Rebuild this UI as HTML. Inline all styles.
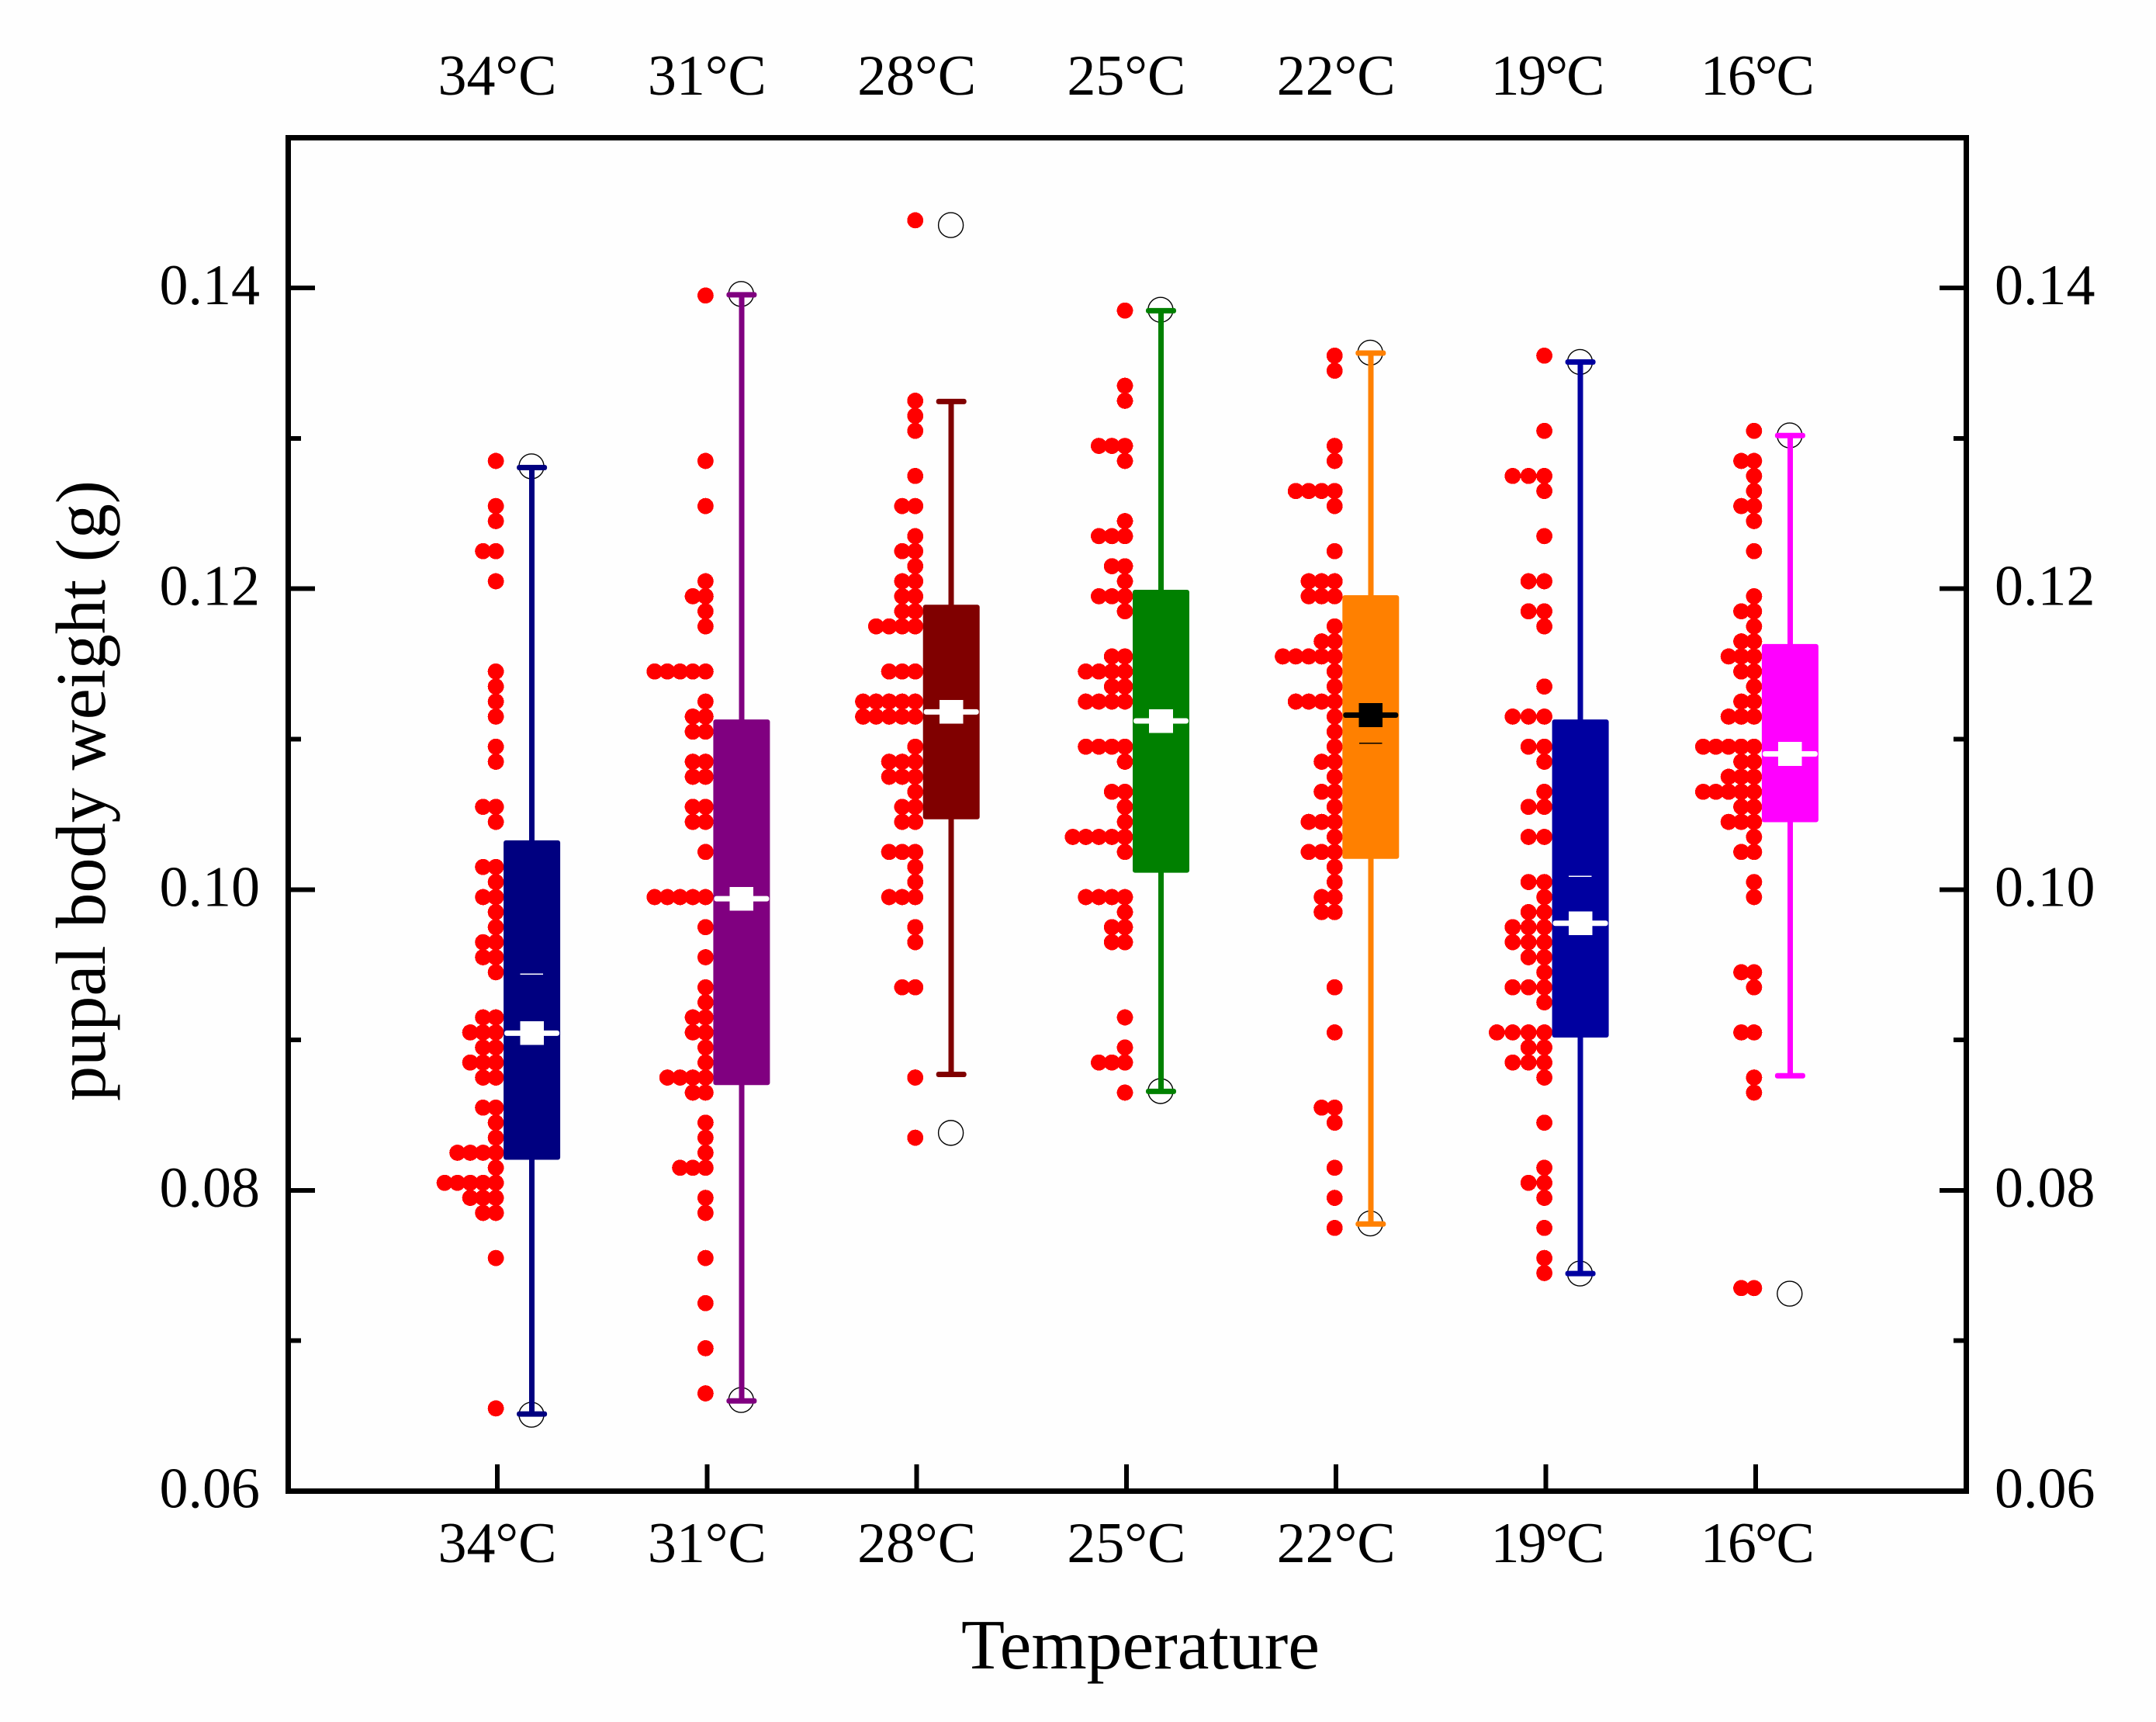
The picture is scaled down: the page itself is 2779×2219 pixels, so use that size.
<!DOCTYPE html>
<html lang="en">
<head>
<meta charset="utf-8">
<title>Pupal body weight by temperature</title>
<style>
html,body{margin:0;padding:0;background:#fefefe;}
svg{display:block;}
text{font-family:"Liberation Serif",serif;fill:#000;}
rect{shape-rendering:crispEdges;}
circle.pt{shape-rendering:crispEdges;}
rect.round{shape-rendering:auto;}
</style>
</head>
<body>
<svg id="chart" xmlns="http://www.w3.org/2000/svg" width="2779" height="2219" viewBox="0 0 2779 2219">
  <rect x="0" y="0" width="2779" height="2219" fill="#fefefe"></rect>
  <text x="1470" y="2150" font-size="91" text-anchor="middle" textLength="462" lengthAdjust="spacingAndGlyphs">Temperature</text>
  <text transform="translate(135 1019) rotate(-90)" x="0" y="0" font-size="91" text-anchor="middle" textLength="800" lengthAdjust="spacingAndGlyphs">pupal body weight (g)</text>
</svg>
<script>
// ---- axis labels ----
const categories = ["34°C","31°C","28°C","25°C","22°C","19°C","16°C"];
const yTickValues = [0.06,0.08,0.10,0.12,0.14];
const yMinorTickValues = [0.07,0.09,0.11,0.13];

// ---- box statistics per temperature ----
const q1Values       = [0.08203,0.08700,0.10467,0.10112,0.10204,0.09016,0.10448];
const q3Values       = [0.10327,0.11131,0.11894,0.11993,0.11957,0.11131,0.11633];
const meanValues     = [0.09045,0.09939,0.11181,0.11121,0.11160,0.09776,0.10902];
const medianValues   = [0.09437,null,null,null,0.10972,0.10089,null];
const whiskerLow     = [0.06513,0.06600,0.08771,0.08658,0.07776,0.07447,0.08762];
const whiskerHigh    = [0.12806,0.13955,0.13245,0.13849,0.13567,0.13508,0.13019];
const extremeLow     = [0.06508,0.06606,0.08382,0.08660,0.07780,0.07447,0.07313];
const extremeHigh    = [0.12814,0.13960,0.14418,0.13855,0.13570,0.13508,0.13020];

// ---- binned raw observations: bin centre and number of points in the bin ----
const bins34 = [0.1285,0.1255,0.1245,0.1225,0.1205,0.1145,0.1135,0.1125,0.1115,0.1095,0.1085,0.1055,0.1045,0.1015,0.1005,0.0995,0.0985,0.0975,0.0965,0.0955,0.0945,0.0915,0.0905,0.0895,0.0885,0.0875,0.0855,0.0845,0.0835,0.0825,0.0815,0.0805,0.0795,0.0785,0.0755,0.0655];
const counts34 = [1,1,1,2,1,1,1,1,1,1,1,2,1,2,1,2,1,1,2,2,1,2,3,2,3,2,2,1,1,4,1,5,3,2,1,1];
const bins31 = [0.1395,0.1285,0.1255,0.1205,0.1195,0.1185,0.1175,0.1145,0.1125,0.1115,0.1105,0.1085,0.1075,0.1055,0.1045,0.1025,0.0995,0.0975,0.0955,0.0935,0.0925,0.0915,0.0905,0.0895,0.0885,0.0875,0.0865,0.0845,0.0835,0.0825,0.0815,0.0795,0.0785,0.0755,0.0725,0.0695,0.0665];
const counts31 = [1,1,1,1,2,1,1,5,1,2,2,2,2,2,2,1,5,1,1,1,1,2,2,1,1,4,2,1,1,1,3,1,1,1,1,1,1];
const bins28 = [0.1445,0.1325,0.1315,0.1305,0.1275,0.1255,0.1235,0.1225,0.1215,0.1205,0.1195,0.1185,0.1175,0.1145,0.1125,0.1115,0.1095,0.1085,0.1075,0.1065,0.1055,0.1045,0.1025,0.1015,0.1005,0.0995,0.0975,0.0965,0.0935,0.0875,0.0835];
const counts28 = [1,1,1,1,1,2,1,2,1,2,2,2,4,3,5,5,1,3,3,1,2,2,3,1,1,3,1,1,2,1,1];
const bins25 = [0.1385,0.1335,0.1325,0.1295,0.1285,0.1245,0.1235,0.1215,0.1205,0.1195,0.1185,0.1155,0.1145,0.1135,0.1125,0.1095,0.1085,0.1065,0.1055,0.1045,0.1035,0.1025,0.0995,0.0985,0.0975,0.0965,0.0915,0.0895,0.0885,0.0865];
const counts25 = [1,1,1,3,1,1,3,2,1,3,1,2,4,2,4,4,1,2,1,1,5,1,4,1,2,2,1,1,3,1];
const bins22 = [0.1355,0.1345,0.1295,0.1285,0.1265,0.1255,0.1225,0.1205,0.1195,0.1175,0.1165,0.1155,0.1145,0.1135,0.1125,0.1115,0.1105,0.1095,0.1085,0.1075,0.1065,0.1055,0.1045,0.1035,0.1025,0.1015,0.1005,0.0995,0.0985,0.0935,0.0905,0.0855,0.0845,0.0815,0.0795,0.0775];
const counts22 = [1,1,1,1,4,1,1,3,3,1,2,5,1,1,4,1,1,1,2,1,2,1,3,1,3,1,1,2,2,1,1,2,1,1,1,1];
const bins19 = [0.1355,0.1305,0.1275,0.1265,0.1235,0.1205,0.1185,0.1175,0.1135,0.1115,0.1095,0.1085,0.1065,0.1055,0.1035,0.1005,0.0995,0.0985,0.0975,0.0965,0.0955,0.0945,0.0935,0.0925,0.0905,0.0895,0.0885,0.0875,0.0845,0.0815,0.0805,0.0795,0.0775,0.0755,0.0745];
const counts19 = [1,1,3,1,1,2,2,1,1,3,2,1,1,2,2,2,1,2,3,3,2,1,3,1,4,2,3,1,1,1,2,1,1,1,1];
const bins16 = [0.1305,0.1285,0.1275,0.1265,0.1255,0.1245,0.1225,0.1195,0.1185,0.1175,0.1165,0.1155,0.1145,0.1135,0.1125,0.1115,0.1095,0.1085,0.1075,0.1065,0.1055,0.1045,0.1035,0.1025,0.1005,0.0995,0.0945,0.0935,0.0905,0.0875,0.0865,0.0735];
const counts16 = [1,2,1,1,2,1,1,1,2,1,2,3,2,1,2,3,5,2,3,5,2,3,1,2,1,1,2,1,2,1,1,2];
const binsByCategory = [bins34,bins31,bins28,bins25,bins22,bins19,bins16];
const countsByCategory = [counts34,counts31,counts28,counts25,counts22,counts19,counts16];

// ---- appearance ----
const boxColors = ["#000080","#800080","#800000","#008000","#ff8000","#0000a0","#ff00ff"];
const markColors = ["#fff","#fff","#fff","#fff","#000","#fff","#fff"];
const dotPitch = [16.5,16.4,16.8,16.8,16.7,20.4,16.4];

// ---- axis functions ----
const frameLeft = 371.5, frameRight = 2534.5, frameTop = 177.5, frameBottom = 1921.5;
function yScale(v){ return frameBottom - (v - 0.06) * 19380; }
function xScale(position){ return 370.7 + 270.3 * position; }

const NS = "http://www.w3.org/2000/svg";
const svg = document.getElementById("chart");
function make(tag, props, parent){
  const el = document.createElementNS(NS, tag);
  for (const k in props) el.setAttribute(k, props[k]);
  (parent || svg).appendChild(el);
  return el;
}

// ---- dots ----
categories.forEach(function(cat, i){
  const group = make("g", {});
  
  
  const bins = binsByCategory[i], counts = countsByCategory[i];
  const cx0 = xScale(i + 1) - 1.9;
  bins.forEach(function(v, b){
    for (let n = 0; n < counts[b]; n++){
      const dot = make("circle", {"class": "pt", cx: cx0 - n * dotPitch[i], cy: yScale(v), r: 10.4, fill: "#ff0000"}, group);
      
      
    }
  });
});

// ---- box plots ----
categories.forEach(function(cat, i){
  const color = boxColors[i], mark = markColors[i];
  const cx = xScale(i + 1) + 44.6;
  const group = make("g", {});
  
  

  [extremeLow[i], extremeHigh[i]].forEach(function(v){
    const ring = make("circle", {cx: cx - 0.6, cy: yScale(v), r: 16, fill: "none", stroke: "#000", "stroke-width": 1.4}, group);
    
    
  });

  const stem = make("rect", {x: cx - 3.5, y: yScale(whiskerHigh[i]), width: 7, height: yScale(whiskerLow[i]) - yScale(whiskerHigh[i]), fill: color}, group);
  
  

  [whiskerLow[i], whiskerHigh[i]].forEach(function(v){
    const cap = make("rect", {"class": "round", x: cx - 19.5, y: yScale(v) - 3.5, width: 39, height: 7, rx: 3, fill: color}, group);
    
    
  });

  const box = make("rect", {"class": "round", x: cx - 36.5, y: yScale(q3Values[i]), width: 73, height: yScale(q1Values[i]) - yScale(q3Values[i]), rx: 3, fill: color}, group);
  
  

  const centre = make("rect", {"class": "round", x: cx - 35.5, y: yScale(meanValues[i]) - 3.5, width: 71, height: 7, rx: 3, fill: mark}, group);
  
  

  const square = make("rect", {x: cx - 15.3, y: yScale(meanValues[i]) - 15.3, width: 30.6, height: 30.6, fill: mark}, group);
  
  

  if (medianValues[i] !== null){
    const thin = make("rect", {x: cx - 15, y: yScale(medianValues[i]) - 0.7, width: 29.5, height: 1.4, fill: mark}, group);
    
    
  }
});

// ---- frame ----
const frame = make("rect", {x: frameLeft, y: frameTop, width: frameRight - frameLeft, height: frameBottom - frameTop, fill: "none", stroke: "#000", "stroke-width": 7});



// ---- y ticks and labels ----
yTickValues.forEach(function(v){
  const y = yScale(v);
  const left = make("rect", {x: frameLeft, y: y - 3, width: 31 + 3.5, height: 6, fill: "#000"});
  
  
  const right = make("rect", {x: frameRight - 34.5, y: y - 3, width: 34.5, height: 6, fill: "#000"});
  
  
  const labelL = make("text", {x: 335, y: y + 21, "font-size": 74, "text-anchor": "end"});
  
  
  labelL.textContent = v.toFixed(2);
  const labelR = make("text", {x: 2571, y: y + 21, "font-size": 74});
  
  
  labelR.textContent = v.toFixed(2);
});
yMinorTickValues.forEach(function(v){
  const y = yScale(v);
  const left = make("rect", {x: frameLeft, y: y - 3, width: 16.5, height: 6, fill: "#000"});
  
  
  const right = make("rect", {x: frameRight - 16.5, y: y - 3, width: 16.5, height: 6, fill: "#000"});
  
  
});

// ---- x ticks and labels ----
categories.forEach(function(cat, i){
  const x = xScale(i + 1);
  const narrow = i >= 5;
  const tick = make("rect", {x: x - 3, y: frameBottom - 34.5, width: 6, height: 34.5, fill: "#000"});
  
  
  const bottom = make("text", {x: narrow ? x + 2.5 : x, y: 2013, "font-size": 74, "text-anchor": "middle"});
  if (narrow) bottom.setAttribute('textLength', '147');
  
  
  bottom.textContent = cat;
  const top = make("text", {x: narrow ? x + 2.5 : x, y: 122, "font-size": 74, "text-anchor": "middle"});
  if (narrow) top.setAttribute('textLength', '147');
  
  
  top.textContent = cat;
});
</script>
</body>
</html>
